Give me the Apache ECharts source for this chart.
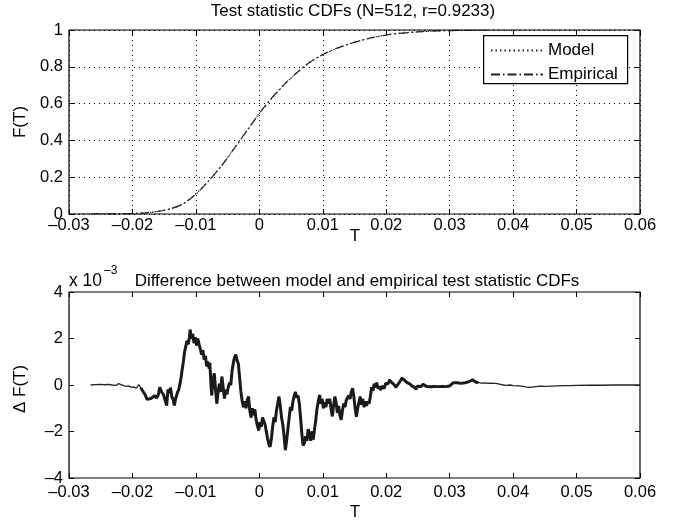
<!DOCTYPE html>
<html>
<head>
<meta charset="utf-8">
<script src="https://cdn.jsdelivr.net/npm/echarts@6/dist/echarts.min.js"></script>
<style>
  html, body { margin: 0; padding: 0; background: #fff; }
  #chart { width: 679px; height: 522px; }
</style>
</head>
<body>
<div id="chart"></div>
<script>
// top panel: CDFs
const modelT = [-0.03, -0.026, -0.024, -0.022, -0.020, -0.018, -0.016, -0.014, -0.012, -0.010, -0.008, -0.006, -0.004, -0.002, 0, 0.002, 0.004, 0.006, 0.008, 0.010, 0.012, 0.014, 0.016, 0.018, 0.020, 0.022, 0.025, 0.028, 0.032, 0.036, 0.045, 0.06];
const modelF = [0, 0, 0.0005, 0.001, 0.002, 0.006, 0.014, 0.028, 0.055, 0.11, 0.18, 0.26, 0.355, 0.45, 0.545, 0.63, 0.705, 0.77, 0.825, 0.866, 0.897, 0.922, 0.943, 0.96, 0.973, 0.982, 0.99, 0.995, 0.998, 0.9995, 1, 1];
const empiricalT = [-0.0266, -0.024, -0.022, -0.020, -0.018, -0.016, -0.014, -0.012, -0.010, -0.008, -0.006, -0.004, -0.002, 0, 0.002, 0.004, 0.006, 0.008, 0.010, 0.012, 0.014, 0.016, 0.018, 0.020, 0.022, 0.025, 0.028, 0.032, 0.036];
const empiricalF = [0, 0.0005, 0.001, 0.002, 0.0065, 0.0146, 0.0286, 0.0555, 0.108, 0.1795, 0.2604, 0.354, 0.451, 0.547, 0.632, 0.707, 0.7705, 0.8262, 0.8668, 0.8978, 0.9222, 0.9431, 0.96, 0.973, 0.982, 0.99, 0.995, 0.998, 0.9995];

// bottom panel: model minus empirical, in units of 1e-3
const diffT = [-0.0266, -0.0258, -0.0250, -0.0244, -0.0238, -0.0232, -0.0226, -0.0222, -0.0218, -0.0214, -0.0210, -0.0206, -0.0202, -0.0198, -0.0194, -0.0190, -0.0187, -0.0184, -0.0180, -0.0177, -0.0174, -0.0171, -0.0168, -0.0165, -0.0162, -0.0159, -0.0157, -0.0154, -0.0151, -0.0148, -0.0146, -0.0144, -0.0142, -0.0140, -0.0138, -0.0136, -0.0134, -0.0132, -0.0129, -0.0127, -0.0124, -0.0122, -0.0120, -0.0118, -0.0116, -0.0114, -0.0112, -0.0110, -0.0109, -0.0107, -0.0105, -0.0103, -0.0101, -0.0099, -0.0097, -0.0095, -0.0093, -0.0091, -0.0089, -0.0087, -0.0085, -0.0083, -0.0081, -0.0079, -0.0078, -0.0076, -0.0075, -0.0073, -0.0071, -0.0069, -0.0067, -0.0065, -0.0063, -0.0061, -0.0059, -0.0057, -0.0055, -0.0053, -0.0051, -0.0049, -0.0047, -0.0045, -0.0043, -0.0041, -0.0039, -0.0037, -0.0035, -0.0033, -0.0031, -0.0029, -0.0027, -0.0025, -0.0023, -0.0021, -0.0019, -0.0017, -0.0015, -0.0013, -0.0011, -0.0009, -0.0007, -0.0005, -0.0003, -0.0001, 0.0001, 0.0003, 0.0005, 0.0007, 0.0009, 0.0011, 0.0013, 0.0015, 0.0017, 0.0019, 0.0021, 0.0023, 0.0025, 0.0027, 0.0029, 0.0031, 0.0033, 0.0035, 0.0037, 0.0039, 0.0041, 0.0043, 0.0045, 0.0047, 0.0049, 0.0051, 0.0053, 0.0055, 0.0057, 0.0059, 0.0061, 0.0063, 0.0065, 0.0067, 0.0069, 0.0071, 0.0073, 0.0075, 0.0077, 0.0079, 0.0081, 0.0083, 0.0085, 0.0087, 0.0089, 0.0091, 0.0093, 0.0095, 0.0097, 0.0099, 0.0101, 0.0103, 0.0105, 0.0107, 0.0109, 0.0111, 0.0113, 0.0115, 0.0117, 0.0119, 0.0121, 0.0123, 0.0125, 0.0127, 0.0129, 0.0131, 0.0133, 0.0135, 0.0137, 0.0139, 0.0141, 0.0143, 0.0145, 0.0147, 0.0149, 0.0151, 0.0153, 0.0155, 0.0157, 0.0159, 0.0161, 0.0163, 0.0165, 0.0167, 0.0169, 0.0171, 0.0173, 0.0175, 0.0177, 0.0179, 0.0181, 0.0183, 0.0185, 0.0187, 0.0189, 0.0191, 0.0193, 0.0195, 0.0197, 0.0199, 0.0201, 0.0203, 0.0205, 0.0207, 0.0209, 0.0211, 0.0213, 0.0215, 0.0217, 0.0219, 0.0221, 0.0223, 0.0225, 0.0227, 0.0229, 0.0231, 0.0233, 0.0235, 0.0237, 0.0239, 0.0241, 0.0243, 0.0245, 0.0247, 0.0249, 0.0252, 0.0255, 0.0258, 0.0261, 0.0264, 0.0267, 0.0270, 0.0273, 0.0276, 0.0279, 0.0282, 0.0285, 0.0288, 0.0291, 0.0294, 0.0297, 0.0300, 0.0303, 0.0306, 0.0309, 0.0312, 0.0315, 0.0318, 0.0321, 0.0324, 0.0327, 0.0330, 0.0333, 0.0336, 0.0339, 0.0342, 0.0345, 0.0350, 0.0355, 0.0360, 0.0365, 0.0370, 0.0375, 0.0380, 0.0385, 0.0390, 0.0395, 0.0400, 0.0410, 0.0420, 0.0427, 0.0435, 0.0443, 0.0450, 0.0460, 0.0470, 0.0480, 0.0490, 0.0500, 0.0520, 0.0540, 0.0560, 0.0580, 0.0600];
const diffV = [0, 0.02, 0.03, 0.01, 0.03, 0.0, -0.02, 0.06, 0.02, -0.03, -0.06, -0.04, -0.10, -0.08, -0.14, 0.02, -0.12, -0.20, -0.42, -0.62, -0.70, -0.58, -0.66, -0.46, -0.56, -0.40, -0.10, -0.30, -0.42, -0.70, -0.88, -0.20, -0.34, -0.12, -0.50, -0.60, -0.88, -0.60, -0.32, -0.20, 0.20, 0.60, 0.95, 1.40, 1.65, 1.90, 1.75, 2.10, 2.38, 2.00, 2.20, 1.80, 2.05, 1.70, 2.00, 1.75, 1.55, 1.30, 1.50, 1.10, 1.25, 0.80, 1.00, 0.70, 0.95, -0.10, -0.45, 0.20, 0.50, -0.20, -0.80, -0.30, 0.05, -0.30, 0.36, -0.10, -0.58, -0.20, -0.40, -0.10, 0.10, 0.00, 0.60, 0.95, 1.20, 1.30, 1.05, 0.90, 0.30, -0.30, -0.70, -0.95, -0.70, -1.00, -0.65, -0.50, -1.10, -1.40, -1.00, -1.30, -1.05, -1.50, -1.75, -1.95, -1.60, -1.80, -1.40, -1.35, -1.70, -2.00, -2.30, -2.55, -2.66, -2.30, -1.80, -1.40, -1.60, -1.10, -0.80, -0.50, -0.90, -1.40, -1.70, -2.20, -2.80, -2.40, -1.90, -1.40, -0.95, -1.10, -0.70, -0.45, -0.30, -0.55, -0.45, -0.80, -1.40, -2.10, -2.60, -2.50, -2.20, -2.40, -1.90, -2.10, -2.40, -2.00, -2.35, -1.90, -1.50, -1.00, -0.70, -0.43, -0.80, -0.60, -1.00, -0.75, -0.95, -0.60, -0.80, -0.60, -1.00, -1.35, -0.90, -0.50, -0.75, -1.20, -0.90, -1.30, -1.50, -1.10, -0.80, -0.95, -0.65, -0.70, -0.45, -0.60, -0.30, -0.14, -0.50, -1.00, -1.37, -1.00, -0.75, -0.50, -0.85, -0.60, -0.95, -0.70, -0.90, -0.70, -0.80, -0.50, -0.10, -0.25, 0.05, -0.10, 0.10, -0.15, -0.05, -0.22, -0.05, 0.00, -0.15, 0.07, 0.15, 0.05, 0.22, 0.29, 0.10, 0.15, 0.00, -0.10, -0.14, 0.05, 0.00, 0.20, 0.30, 0.33, 0.20, 0.25, 0.10, 0.15, 0.05, 0.10, -0.05, 0.02, -0.10, -0.19, -0.05, 0.02, -0.06, 0.03, -0.02, -0.07, -0.03, -0.08, -0.04, -0.06, -0.02, -0.07, -0.03, -0.06, -0.03, -0.07, -0.01, -0.04, 0.02, 0.10, 0.05, 0.10, 0.03, 0.07, 0.05, 0.10, 0.06, 0.14, 0.18, 0.22, 0.15, 0.12, 0.10, 0.08, 0.09, 0.07, 0.08, 0.07, 0.06, 0.03, 0.00, -0.02, 0.00, -0.03, -0.04, -0.08, -0.10, -0.07, -0.05, -0.06, -0.05, -0.04, -0.03, -0.03, -0.02, -0.01, -0.01, 0.00, 0.00, 0.00];

const topTitle = 'Test statistic CDFs (N=512, r=0.9233)';
const bottomTitle = 'Difference between model and empirical test statistic CDFs';

const FONT = '"Liberation Sans", Arial, sans-serif';
const chart = echarts.init(document.getElementById('chart'));

const zip = (xs, ys) => xs.map((x, i) => [x, ys[i]]);
const diffAll = zip(diffT, diffV);
const diffNoisy = diffAll.filter(d => d[0] >= -0.0188 && d[0] <= 0.0345);

function fmtT(v) {
  if (Math.abs(v) < 1e-9) return '0';
  const s = Math.abs(v).toFixed(2);
  return v < 0 ? '\u2013' + s : s;
}
function fmtF(v) {
  if (Math.abs(v) < 1e-9) return '0';
  return String(parseFloat(v.toFixed(1)));
}
function fmtD(v) {
  const r = Math.round(v);
  return r < 0 ? '\u2013' + Math.abs(r) : String(r);
}

const tickStyle = { show: true, inside: true, length: 5, lineStyle: { color: '#000', width: 1 } };
const labelStyle = { color: '#000', fontSize: 16.5, fontFamily: FONT };
const dotted = { show: true, lineStyle: { color: '#000', type: [1, 4], width: 1 } };

function xAx(grid, pos, withLabel, withGrid, margin) {
  return {
    type: 'value', gridIndex: grid, position: pos, min: -0.03, max: 0.06, interval: 0.01,
    axisLine: { show: false, onZero: false }, axisTick: tickStyle,
    axisLabel: withLabel ? Object.assign({ formatter: fmtT, margin: margin }, labelStyle) : { show: false },
    splitLine: withGrid ? dotted : { show: false }
  };
}
function yAx(grid, pos, min, max, interval, fmt, withLabel, withGrid) {
  return {
    type: 'value', gridIndex: grid, position: pos, min: min, max: max, interval: interval,
    axisLine: { show: false, onZero: false }, axisTick: tickStyle,
    axisLabel: withLabel ? Object.assign({ formatter: fmt, margin: 6 }, labelStyle) : { show: false },
    splitLine: withGrid ? dotted : { show: false }
  };
}

const option = {
  animation: false,
  backgroundColor: '#fff',
  grid: [
    { left: 69, top: 30, width: 571, height: 184, show: true, borderColor: '#000', borderWidth: 1.2, backgroundColor: 'transparent', z: 5 },
    { left: 69, top: 292, width: 571, height: 186, show: true, borderColor: '#000', borderWidth: 1.2, backgroundColor: 'transparent', z: 5 }
  ],
  xAxis: [
    xAx(0, 'bottom', true, true, 3),
    xAx(0, 'top', false, false, 0),
    xAx(1, 'bottom', true, false, 6),
    xAx(1, 'top', false, false, 0)
  ],
  yAxis: [
    yAx(0, 'left', 0, 1, 0.2, fmtF, true, true),
    yAx(0, 'right', 0, 1, 0.2, fmtF, false, false),
    yAx(1, 'left', -4, 4, 2, fmtD, true, false),
    yAx(1, 'right', -4, 4, 2, fmtD, false, false)
  ],
  legend: {
    orient: 'vertical', left: 490, top: 42, padding: 0, itemGap: 7,
    itemWidth: 52, itemHeight: 14,
    itemStyle: { opacity: 0 },
    textStyle: { color: '#000', fontSize: 17, fontFamily: FONT },
    data: ['Model', 'Empirical'], z: 10
  },
  graphic: [
    { type: 'rect', left: 483, top: 35, shape: { width: 144, height: 48 }, style: { fill: '#fff', stroke: '#000', lineWidth: 1.2 }, z: 8 },
    { type: 'text', x: 353, y: 11, style: { text: topTitle, fill: '#000', font: '17px ' + FONT, textAlign: 'center', textVerticalAlign: 'middle' }, z: 10 },
    { type: 'text', x: 357, y: 281, style: { text: bottomTitle, fill: '#000', font: '17px ' + FONT, textAlign: 'center', textVerticalAlign: 'middle' }, z: 10 },
    { type: 'text', x: 69, y: 281, style: { text: 'x 10', fill: '#000', font: '17.5px ' + FONT, textVerticalAlign: 'middle' }, z: 10 },
    { type: 'text', x: 104, y: 271, style: { text: '\u20133', fill: '#000', font: '12px ' + FONT, textVerticalAlign: 'middle' }, z: 10 },
    { type: 'text', x: 355, y: 236, style: { text: 'T', fill: '#000', font: '17px ' + FONT, textAlign: 'center', textVerticalAlign: 'middle' }, z: 10 },
    { type: 'text', x: 355, y: 512, style: { text: 'T', fill: '#000', font: '17px ' + FONT, textAlign: 'center', textVerticalAlign: 'middle' }, z: 10 },
    { type: 'text', x: 20, y: 122, rotation: Math.PI / 2, style: { text: 'F(T)', fill: '#000', font: '17px ' + FONT, textAlign: 'center', textVerticalAlign: 'middle' }, z: 10 },
    { type: 'text', x: 20, y: 389, rotation: Math.PI / 2, style: { text: '\u0394 F(T)', fill: '#000', font: '17px ' + FONT, textAlign: 'center', textVerticalAlign: 'middle' }, z: 10 }
  ],
  series: [
    {
      name: 'Model', type: 'line', xAxisIndex: 0, yAxisIndex: 0, showSymbol: false, symbol: 'none',
      data: zip(modelT, modelF), smooth: 0.3,
      lineStyle: { color: '#222', width: 1.2, type: [1.5, 3] }, itemStyle: { color: '#222' }
    },
    {
      name: 'Empirical', type: 'line', xAxisIndex: 0, yAxisIndex: 0, showSymbol: false, symbol: 'none',
      data: zip(empiricalT, empiricalF), smooth: 0.3,
      lineStyle: { color: '#222', width: 1.2, type: [9, 3, 1.5, 3] }, itemStyle: { color: '#222' }
    },
    {
      name: 'diff', type: 'line', xAxisIndex: 2, yAxisIndex: 2, showSymbol: false, symbol: 'none',
      data: diffAll, lineStyle: { color: '#222', width: 1.3 }
    },
    {
      name: 'diffNoisy', type: 'line', xAxisIndex: 2, yAxisIndex: 2, showSymbol: false, symbol: 'none',
      data: diffNoisy, lineStyle: { color: '#1a1a1a', width: 3 }
    }
  ]
};

chart.setOption(option);
</script>
</body>
</html>
